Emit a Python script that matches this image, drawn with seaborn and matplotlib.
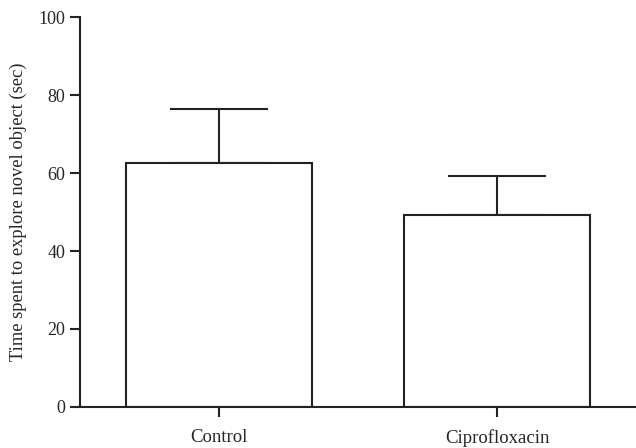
import seaborn as sns
import matplotlib.pyplot as plt
import pandas as pd

groups = ["Control", "Ciprofloxacin"]
means = [62.7, 49.2]
errors = [13.9, 10.1]

df = pd.DataFrame({"group": groups, "time": means})

sns.set_style("ticks")
plt.rcParams['font.family'] = ['Liberation Serif', 'DejaVu Serif']

fig = plt.figure(figsize=(6.36, 4.48), dpi=100)
ax = fig.add_axes([80 / 636, 41.3 / 448, 1 - 80 / 636, (406.7 - 17.5) / 448])

sns.barplot(data=df, x="group", y="time", color="white", edgecolor="#222222",
            linewidth=1.5, width=0.67, errorbar=None, ax=ax)
ax.errorbar(range(len(groups)), means, yerr=[[0] * len(errors), errors],
            fmt="none", ecolor="#222222", elinewidth=1.5, capsize=35, capthick=1.5,
            zorder=0)

ax.set_xlim(-0.5, 1.5)
ax.set_ylim(0, 100)
ax.set_yticks([0, 20, 40, 60, 80, 100])
ax.set_xlabel("")
ax.set_ylabel("Time spent to explore novel object (sec)", fontsize=13.3, labelpad=8)
for s in ["top", "right"]:
    ax.spines[s].set_visible(False)
for s in ["left", "bottom"]:
    ax.spines[s].set_linewidth(1.5)
    ax.spines[s].set_color("#222222")
ax.tick_params(axis="both", length=7, width=1.5, color="#222222", labelsize=13)
ax.tick_params(axis="x", pad=9, labelsize=13.5)

fig.savefig("out.png", dpi=100)
